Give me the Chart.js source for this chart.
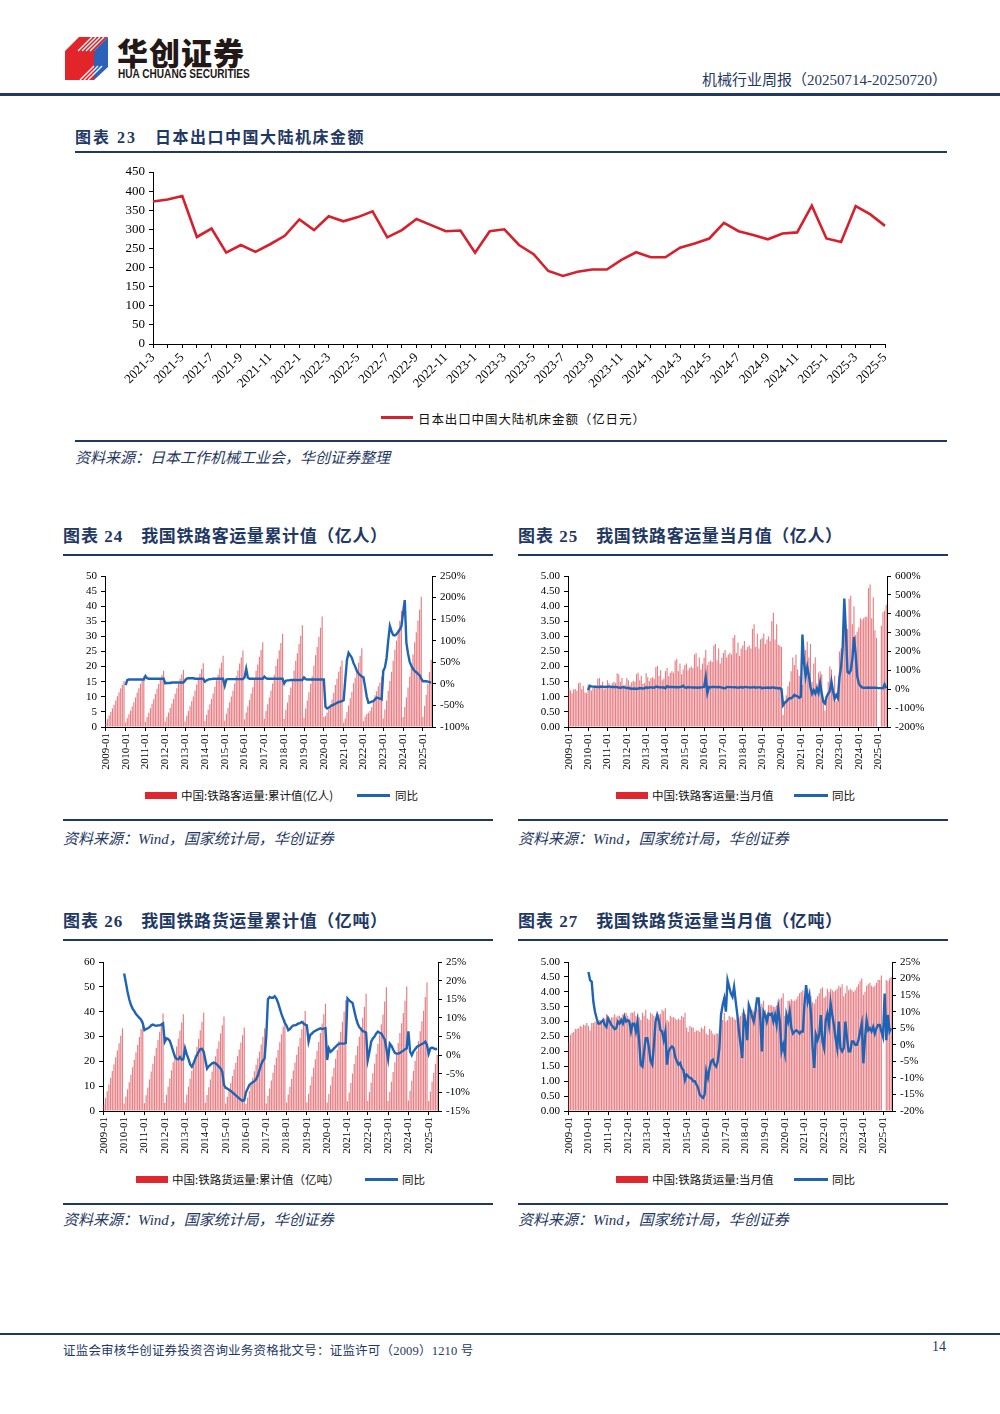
<!DOCTYPE html>
<html lang="zh-CN">
<head>
<meta charset="utf-8">
<title>机械行业周报</title>
<script src="https://cdn.jsdelivr.net/npm/chart.js@4.4.1/dist/chart.umd.min.js"></script>
<style>
  html, body { margin: 0; padding: 0; background: #fff; }
  body { width: 1000px; height: 1414px; position: relative; overflow: hidden;
         font-family: "Liberation Serif", "Noto Sans CJK SC", serif; color: #000; }
  .rule { position: absolute; height: 2px; background: #1f3864; }
  .title { position: absolute; font-size: 17px; font-weight: 700; color: #1f3864; white-space: nowrap;
           letter-spacing: 0.6px; line-height: 1.2; }
  .title .no { margin-right: 18px; letter-spacing: 1px; }
  .src { position: absolute; font-size: 15px; font-style: italic; color: #1f3864; white-space: nowrap; }
  .lgtext { position: absolute; font-size: 11.5px; font-family: "Noto Sans CJK SC", sans-serif; white-space: nowrap; color: #111; }
  .lg-bar { position: absolute; height: 7px; background: #e0262e; }
  .lg-line { position: absolute; height: 3px; background: #1f63b5; }
  canvas { position: absolute; }
</style>
</head>
<body>

<!-- header -->
<svg style="position:absolute;left:62px;top:35px" width="50" height="48" viewBox="0 0 50 48">
  <polygon points="3,16 17,2 46,2 32,16 32,45 3,45" fill="#e1252b"/>
  <polygon points="32,16 46,2 46,32 32,45" fill="#2a63b8"/>
  <g stroke="#fff" stroke-width="1.3">
    <line x1="16" y1="16" x2="30" y2="2"/>
    <line x1="20" y1="16" x2="34" y2="2"/>
    <line x1="24" y1="16" x2="38" y2="2"/>
    <line x1="28" y1="16" x2="42" y2="2"/>
    <line x1="18" y1="45" x2="32" y2="31"/>
    <line x1="22" y1="45" x2="36" y2="31"/>
    <line x1="26" y1="45" x2="40" y2="31"/>
  </g>
</svg>
<div style="position:absolute;left:117px;top:36px;line-height:1;font-family:'Noto Sans CJK SC',sans-serif;font-weight:900;font-size:31px;color:#231815;letter-spacing:1px;">华创证券</div>
<div style="position:absolute;left:118px;top:68px;line-height:1;font-family:'Liberation Sans',sans-serif;font-weight:700;font-size:12px;color:#231815;white-space:nowrap;transform:scaleX(0.84);transform-origin:left top;">HUA CHUANG SECURITIES</div>
<div style="position:absolute;right:53px;top:68px;font-size:15px;color:#1f3864;white-space:nowrap;">机械行业周报（20250714-20250720）</div>
<div class="rule" style="left:0;top:93px;width:1000px;height:3px;"></div>

<!-- chart 23 -->
<div class="title" style="left:75px;top:128px;font-size:16px;"><span class="no" style="letter-spacing:2px;margin-right:18px;">图表 23</span><span style="letter-spacing:1.5px;">日本出口中国大陆机床金额</span></div>
<div class="rule" style="left:75px;top:151px;width:872px;"></div>
<canvas id="c23" width="872" height="245" style="left:75px;top:160px;"></canvas>
<div class="lg-line" style="left:381px;top:416px;width:32px;background:#d6202c;"></div>
<div class="lgtext" style="left:418px;top:409px;font-size:12.5px;letter-spacing:0.9px;">日本出口中国大陆机床金额（亿日元）</div>
<div class="rule" style="left:75px;top:440px;width:872px;"></div>
<div class="src" style="left:75px;top:446px;">资料来源：日本工作机械工业会，华创证券整理</div>

<!-- chart 24 -->
<div class="title" style="left:63px;top:527px;"><span class="no">图表 24</span>我国铁路客运量累计值（亿人）</div>
<div class="rule" style="left:63px;top:554px;width:430px;"></div>
<canvas id="c24" width="430" height="220" style="left:63px;top:560px;"></canvas>
<div class="lg-bar" style="left:145px;top:792px;width:32px;"></div>
<div class="lgtext" style="left:181px;top:787px;">中国:铁路客运量:累计值(亿人)</div>
<div class="lg-line" style="left:357px;top:794px;width:33px;"></div>
<div class="lgtext" style="left:395px;top:787px;">同比</div>
<div class="rule" style="left:63px;top:819px;width:430px;"></div>
<div class="src" style="left:63px;top:827px;">资料来源：Wind，国家统计局，华创证券</div>

<!-- chart 25 -->
<div class="title" style="left:518px;top:527px;"><span class="no">图表 25</span>我国铁路客运量当月值（亿人）</div>
<div class="rule" style="left:518px;top:554px;width:430px;"></div>
<canvas id="c25" width="430" height="220" style="left:518px;top:560px;"></canvas>
<div class="lg-bar" style="left:616px;top:792px;width:32px;"></div>
<div class="lgtext" style="left:652px;top:787px;">中国:铁路客运量:当月值</div>
<div class="lg-line" style="left:794px;top:794px;width:34px;"></div>
<div class="lgtext" style="left:832px;top:787px;">同比</div>
<div class="rule" style="left:518px;top:819px;width:430px;"></div>
<div class="src" style="left:518px;top:827px;">资料来源：Wind，国家统计局，华创证券</div>

<!-- chart 26 -->
<div class="title" style="left:63px;top:912px;"><span class="no">图表 26</span>我国铁路货运量累计值（亿吨）</div>
<div class="rule" style="left:63px;top:939px;width:430px;"></div>
<canvas id="c26" width="430" height="220" style="left:63px;top:946px;"></canvas>
<div class="lg-bar" style="left:136px;top:1176px;width:32px;"></div>
<div class="lgtext" style="left:172px;top:1171px;">中国:铁路货运量:累计值（亿吨）</div>
<div class="lg-line" style="left:365px;top:1178px;width:33px;"></div>
<div class="lgtext" style="left:402px;top:1171px;">同比</div>
<div class="rule" style="left:63px;top:1203px;width:430px;"></div>
<div class="src" style="left:63px;top:1208px;">资料来源：Wind，国家统计局，华创证券</div>

<!-- chart 27 -->
<div class="title" style="left:518px;top:912px;"><span class="no">图表 27</span>我国铁路货运量当月值（亿吨）</div>
<div class="rule" style="left:518px;top:939px;width:430px;"></div>
<canvas id="c27" width="430" height="220" style="left:518px;top:946px;"></canvas>
<div class="lg-bar" style="left:616px;top:1176px;width:32px;"></div>
<div class="lgtext" style="left:652px;top:1171px;">中国:铁路货运量:当月值</div>
<div class="lg-line" style="left:794px;top:1178px;width:34px;"></div>
<div class="lgtext" style="left:832px;top:1171px;">同比</div>
<div class="rule" style="left:518px;top:1203px;width:430px;"></div>
<div class="src" style="left:518px;top:1208px;">资料来源：Wind，国家统计局，华创证券</div>

<!-- footer -->
<div class="rule" style="left:0;top:1333px;width:1000px;"></div>
<div style="position:absolute;left:63px;top:1340px;font-size:12.5px;letter-spacing:0.2px;color:#1f3864;white-space:nowrap;">证监会审核华创证券投资咨询业务资格批文号：证监许可（2009）1210 号</div>
<div style="position:absolute;left:932px;top:1339px;font-size:14px;color:#1f3864;">14</div>

<script>
// month labels for the category axes
function monthLabels(y0, m0, y1, m1, pad) {
    var out = [];
    for (var y = y0, m = m0; y < y1 || (y === y1 && m <= m1); ) {
        out.push(y + '-' + (pad && m < 10 ? '0' + m : m));
        m++;
        if (m > 12) { m = 1; y++; }
    }
    return out;
}

var machineMonths = monthLabels(2021, 3, 2025, 5, false);
var railMonths = monthLabels(2009, 1, 2025, 6, true);

// 图表23 日本出口中国大陆机床金额（亿日元）
var machineExports = [
    373, 378, 387, 280, 302, 239, 259, 241, 261, 283,
    326, 298, 334, 321, 332, 347, 279, 298, 327, 311, 295, 297,
    239, 295, 300, 259, 235, 191, 178, 189, 195, 195, 220, 240,
    227, 227, 252, 263, 276, 317, 295, 285, 274, 289, 292, 362,
    276, 267, 361, 339, 309
];

var N12 = null;
// 图表24 铁路客运量累计值（亿人）/ 同比(%)
var paxCum = [
    1.3, 2.6, 3.8, 5.0, 6.2, 7.4, 8.8, 10.2, 11.5, 12.8, 14.0, 15.2,
    1.5, 2.9, 4.2, 5.5, 6.8, 8.2, 9.8, 11.4, 12.8, 14.3, 15.5, 16.8,
    1.7, 3.3, 4.7, 6.2, 7.7, 9.2, 10.9, 12.7, 14.2, 15.8, 17.2, 18.6,
    1.7, 3.4, 4.8, 6.3, 7.8, 9.3, 11.0, 12.8, 14.3, 16.0, 17.4, 18.9,
    1.8, 3.7, 5.3, 6.9, 8.5, 10.1, 12.1, 14.1, 15.7, 17.6, 19.2, 21.1,
    2.0, 4.0, 5.7, 7.5, 9.3, 11.1, 13.3, 15.5, 17.3, 19.4, 21.3, 23.6,
    2.1, 4.4, 6.3, 8.2, 10.1, 12.0, 14.4, 16.8, 18.7, 21.0, 23.0, 25.3,
    2.5, 4.8, 6.9, 9.0, 11.1, 13.2, 15.9, 18.6, 20.7, 23.3, 25.5, 28.1,
    2.7, 5.3, 7.5, 9.8, 12.1, 14.4, 17.3, 20.2, 22.6, 25.4, 27.8, 30.8,
    2.7, 5.7, 8.1, 10.6, 13.1, 15.5, 18.7, 21.9, 24.4, 27.5, 30.2, 33.7,
    3.1, 6.1, 8.8, 11.5, 14.2, 16.8, 20.3, 23.8, 26.5, 29.9, 32.9, 36.6,
    3.3, 3.6, 4.7, 5.9, 7.5, 9.1, 11.3, 13.9, 16.0, 18.3, 20.0, 22.0,
    1.5, 2.8, 4.9, 7.1, 9.5, 11.7, 14.5, 16.2, 18.5, 21.3, 23.6, 26.1,
    1.9, 3.5, 4.3, 4.7, 5.3, 6.5, 8.6, 10.5, 11.8, 13.5, 14.7, 16.7,
    2.8, 5.8, 8.8, 12.0, 15.2, 18.3, 21.9, 25.6, 28.6, 32.2, 35.2, 38.5,
    3.3, 6.6, 9.8, 13.1, 16.6, 20.0, 24.0, 28.1, 31.4, 35.3, 38.8, 43.1,
    3.4, 7.0, 10.6, 14.3, 18.2, 22.3
];
var paxCumYoY = [
    N12, N12, N12, N12, N12, N12, N12, N12, N12, N12, N12, N12,
    -3, 9, 10, 10, 10, 10, 10, 10, 10, 10, 10, 10,
    18, 13, 12, 12, 12, 12, 12, 12, 12, 12, 12, 12,
    1, 2, 2, 2, 3, 3, 3, 3, 3, 3, 3, 3,
    8, 12, 13, 13, 13, 13, 12, 12, 12, 12, 12, 12,
    5, 8, 10, 11, 11, 12, 12, 12, 12, 12, 12, 12,
    -4, 10, 11, 11, 11, 11, 11, 11, 11, 11, 11, 11,
    15, 35, 14, 12, 12, 12, 12, 12, 12, 12, 12, 12,
    17, 13, 12, 12, 12, 12, 12, 12, 12, 12, 12, 12,
    1, 7, 8, 8, 9, 9, 9, 9, 9, 9, 9, 9,
    15, 11, 10, 10, 10, 10, 10, 10, 10, 10, 10, 10,
    10, -53, -57, -55, -52, -50, -48, -46, -44, -42, -41, -40,
    -38, 10, 55, 72, 66, 60, 48, 40, 30, 24, 20, 17,
    15, -7, -30, -44, -43, -41, -40, -36, -32, -33, -34, -36,
    30, 38, 60, 100, 134, 122, 113, 112, 115, 120, 126, 134,
    165, 194, 95, 70, 51, 42, 35, 30, 27, 23, 20, 12,
    6, 6, 6, 5, 4, 3
];

// 图表25 铁路客运量当月值（亿人）/ 同比(%)
var paxMon = [
    1.32, 1.21, 1.12, 1.24, 1.26, 1.20, 1.45, 1.47, 1.25, 1.36, 1.14, 1.12,
    1.40, 1.30, 1.21, 1.30, 1.35, 1.30, 1.60, 1.62, 1.40, 1.50, 1.25, 1.30,
    1.55, 1.45, 1.35, 1.45, 1.50, 1.45, 1.78, 1.75, 1.50, 1.62, 1.38, 1.40,
    1.62, 1.55, 1.38, 1.48, 1.52, 1.50, 1.75, 1.80, 1.55, 1.70, 1.42, 1.45,
    1.78, 1.65, 1.52, 1.62, 1.65, 1.60, 1.98, 2.02, 1.70, 1.88, 1.55, 1.60,
    1.85, 1.95, 1.68, 1.80, 1.85, 1.80, 2.20, 2.25, 1.85, 2.10, 1.75, 1.90,
    2.05, 2.10, 1.88, 1.95, 2.00, 1.95, 2.40, 2.45, 2.00, 2.30, 1.90, 2.10,
    2.30, 2.55, 2.05, 2.15, 2.20, 2.15, 2.70, 2.75, 2.20, 2.60, 2.10, 2.30,
    2.45, 2.55, 2.30, 2.40, 2.45, 2.40, 2.95, 3.05, 2.45, 2.80, 2.35, 2.60,
    2.70, 2.85, 2.55, 2.65, 2.70, 2.60, 3.25, 3.40, 2.65, 3.10, 2.60, 2.90,
    2.95, 3.10, 2.75, 2.90, 3.00, 2.85, 3.50, 3.78, 2.90, 3.40, 2.72, 2.70,
    2.65, 0.40, 0.85, 1.05, 1.35, 1.50, 1.85, 2.30, 2.05, 2.40, 1.90, 1.70,
    1.25, 1.40, 2.10, 2.55, 2.82, 2.30, 2.75, 1.50, 2.10, 2.30, 1.45, 1.80,
    1.85, 1.75, 0.95, 0.55, 0.85, 1.50, 2.00, 1.90, 1.15, 1.70, 0.85, 1.05,
    2.50, 2.60, 3.05, 3.45, 3.25, 3.25, 4.25, 4.35, 3.40, 4.00, 3.05, 3.15,
    3.30, 3.60, 3.55, 3.60, 3.65, 3.65, 4.60, 4.72, 3.60, 4.30, 3.20, 2.95,
    null, null, 3.35, 3.80, 3.85, 4.05
];
var paxMonYoY = [
    N12, N12, N12, N12, N12, N12, N12, N12, N12, N12, N12, N12,
    -5, 18, 15, 14, 13, 14, 12, 12, 14, 13, 12, 14,
    12, 15, 13, 12, 12, 12, 11, 9, 8, 10, 11, 9,
    6, 8, 4, 3, 3, 4, 1, 4, 5, 6, 4, 5,
    10, 7, 10, 10, 9, 8, 13, 13, 10, 11, 9, 10,
    5, 16, 12, 12, 12, 12, 11, 12, 10, 12, 13, 18,
    10, 8, 12, 10, 10, 9, 10, 9, 8, 10, 9, 11,
    12, 65, -20, 12, 11, 12, 12, 12, 10, 13, 10, 10,
    6, 5, 12, 11, 11, 11, 10, 11, 10, 8, 10, 12,
    8, 12, 11, 10, 10, 9, 10, 12, 8, 10, 10, 11,
    5, 8, 8, 8, 9, 7, 9, 10, 7, 8, 4, 6,
    0, -85, -72, -65, -55, -48, -48, -40, -30, -35, -38, -45,
    -40, 290, 140, 68, 118, 74, 12, -23, -5, -23, 4, -20,
    33, -23, -67, -76, -40, -23, -10, 42, -9, -50, -30, -46,
    65, 120, 224, 480, 300, 92, 85, 100, 160, 277, 190, 70,
    30, 18, 10, 8, 8, 8, 9, 8, 8, 8, 8, 8,
    6, 6, 6, 5, 26, 5
];

// 图表26 铁路货运量累计值（亿吨）/ 同比(%)
var frCum = [
    2.6, 5.3, 8.0, 10.7, 13.4, 16.1, 18.8, 21.6, 24.4, 27.3, 30.3, 33.3,
    3.0, 5.8, 8.7, 11.6, 14.6, 17.6, 20.6, 23.6, 26.6, 29.8, 33.0, 36.4,
    3.2, 6.3, 9.5, 12.7, 15.9, 19.0, 22.2, 25.4, 28.6, 31.9, 35.3, 39.3,
    3.3, 6.5, 9.8, 13.1, 16.4, 19.6, 22.8, 26.0, 29.1, 32.4, 35.6, 39.0,
    3.3, 6.5, 9.8, 13.0, 16.2, 19.3, 22.5, 25.8, 29.1, 32.5, 35.9, 39.7,
    3.3, 6.4, 9.6, 12.7, 15.9, 19.0, 22.0, 25.1, 28.1, 31.3, 34.5, 38.1,
    3.0, 5.7, 8.5, 11.3, 14.1, 16.7, 19.4, 22.1, 24.8, 27.6, 30.5, 33.6,
    2.8, 5.4, 8.1, 10.8, 13.4, 16.0, 18.6, 21.2, 23.9, 26.8, 29.9, 33.3,
    3.0, 6.0, 9.1, 12.3, 15.4, 18.5, 21.5, 24.6, 27.7, 30.9, 34.0, 36.9,
    3.4, 6.6, 9.8, 13.0, 16.3, 19.5, 22.7, 26.0, 29.4, 32.9, 36.4, 40.3,
    3.5, 6.9, 10.4, 13.9, 17.4, 20.8, 24.3, 27.8, 31.4, 35.2, 39.0, 43.2,
    3.4, 6.8, 10.3, 13.9, 17.4, 21.0, 24.6, 28.2, 31.9, 35.9, 40.1, 44.6,
    3.9, 7.5, 11.3, 15.1, 18.9, 22.5, 26.2, 29.9, 33.7, 37.6, 41.9, 47.2,
    4.0, 7.6, 11.4, 15.2, 19.1, 23.0, 27.0, 30.9, 34.9, 38.9, 44.1, 49.8,
    4.0, 7.8, 11.8, 15.7, 19.6, 23.4, 27.4, 31.4, 35.3, 39.5, 44.4, 50.1,
    4.2, 8.2, 12.2, 16.2, 20.2, 24.1, 28.1, 32.1, 36.1, 40.4, 45.9, 51.7,
    4.0, 7.9, 11.8, 15.4, 19.0, 22.6
];
var frCumYoY = [
    N12, N12, N12, N12, N12, N12, N12, N12, N12, N12, N12, N12,
    21.9, 19.5, 17.0, 15.0, 13.5, 12.5, 11.8, 11.0, 10.5, 10.0, 9.5, 8.5,
    6.7, 7.0, 7.2, 7.5, 8.0, 8.2, 8.0, 7.9, 8.0, 8.0, 8.2, 8.5,
    3.6, 4.5, 4.3, 3.8, 2.5, 1.0, -0.4, -1.0, -1.1, -0.5, -1.2, -1.1,
    1.8, 0.2, -1.0, -2.5, -3.1, -2.2, -1.0, 0.0, 0.9, 1.6, 1.7, 0.9,
    -1.3, -3.6, -3.0, -2.6, -2.2, -2.0, -2.2, -2.6, -3.1, -3.6, -4.5, -8.0,
    -8.8, -9.0, -9.3, -9.6, -10.0, -10.4, -10.8, -11.2, -11.6, -12.0, -12.3, -12.1,
    -10.0, -9.0, -8.0, -7.6, -7.3, -7.0, -6.5, -5.5, -4.0, -2.5, -1.5, -0.9,
    5.0, 15.0, 15.6, 15.4, 15.4, 15.8, 15.2, 14.0, 12.5, 11.0, 9.8, 8.6,
    7.9, 6.7, 7.0, 7.6, 8.0, 8.0, 8.2, 8.5, 8.6, 8.9, 8.5, 8.2,
    8.0, 3.6, 5.4, 5.8, 6.3, 6.5, 6.8, 7.0, 7.2, 7.0, 7.1, 7.2,
    -1.3, 1.8, 0.9, 1.3, 1.8, 2.2, 2.7, 3.1, 3.1, 3.1, 3.1, 3.3,
    15.2, 14.7, 14.3, 14.0, 12.0, 10.0, 8.5, 7.5, 7.0, 6.4, 6.3, 6.0,
    -1.3, 0.9, 3.6, 4.5, 5.0, 5.8, 6.3, 6.0, 5.8, 5.0, 4.2, 1.8,
    -1.1, 3.1, 2.5, 1.5, 0.6, 0.4, 0.4, 0.6, 0.9, 1.2, 1.6, 1.8,
    6.4, 0.9, 0.0, 1.0, 1.6, 2.2, 2.5, 2.7, 3.0, 3.2, 3.6, 2.7,
    0.4, 1.8, 2.0, 1.8, 1.6, 1.7
];

// 图表27 铁路货运量当月值（亿吨）/ 同比(%)
var frMon = [
    2.30, 2.55, 2.62, 2.65, 2.75, 2.75, 2.78, 2.85, 2.82, 2.90, 2.88, 2.95,
    2.85, 2.70, 2.95, 2.95, 3.00, 3.00, 3.00, 3.05, 3.00, 3.15, 3.10, 3.25,
    3.05, 2.95, 3.15, 3.15, 3.25, 3.15, 3.20, 3.20, 3.15, 3.25, 3.30, 3.30,
    3.20, 3.10, 3.30, 3.30, 3.35, 3.20, 3.25, 3.15, 3.05, 3.30, 3.20, 3.40,
    3.10, 3.05, 3.30, 3.25, 3.20, 3.10, 3.20, 3.25, 3.25, 3.40, 3.35, 3.45,
    3.05, 3.00, 3.20, 3.15, 3.15, 3.10, 3.05, 3.10, 3.05, 3.20, 3.15, 3.30,
    2.80, 2.65, 2.85, 2.80, 2.80, 2.65, 2.70, 2.70, 2.65, 2.80, 2.75, 2.85,
    2.60, 2.55, 2.75, 2.70, 2.60, 2.55, 2.60, 2.60, 2.70, 2.90, 3.05, 3.30,
    3.00, 3.05, 3.20, 3.15, 3.15, 3.10, 3.05, 3.10, 3.15, 3.20, 3.30, 3.40,
    3.25, 3.15, 3.35, 3.35, 3.40, 3.35, 3.35, 3.45, 3.40, 3.50, 3.60, 3.70,
    3.40, 3.25, 3.55, 3.55, 3.55, 3.50, 3.50, 3.55, 3.65, 3.75, 3.80, 3.95,
    3.20, 3.30, 3.70, 3.70, 3.75, 3.70, 3.70, 3.75, 3.85, 3.95, 4.00, 4.05,
    3.80, 3.70, 4.10, 3.90, 3.85, 3.65, 3.60, 3.75, 3.85, 3.95, 4.10, 4.15,
    3.80, 3.85, 4.10, 4.00, 4.10, 4.05, 4.00, 4.05, 4.10, 4.20, 4.15, 4.25,
    3.85, 3.95, 4.20, 4.05, 4.10, 4.05, 4.00, 4.05, 4.15, 4.25, 4.35, 4.45,
    3.90, 4.00, 4.20, 4.25, 4.30, 4.20, 4.15, 4.20, 4.30, 4.40, 4.40, 4.55,
    null, null, 4.40, 4.35, 4.45, 4.50
];
var frMonYoY = [
    N12, N12, N12, N12, N12, N12, N12, N12, N12, N12, N12, N12,
    22, 19.5, 19, 13, 10, 8, 6.4, 6.4, 7, 7.4, 6, 5.4,
    8, 7, 6, 5.4, 4.7, 5, 7, 6.4, 7.4, 6.4, 8.4, 7,
    7.4, 7, 4, 6.4, 6.4, 4, 7, 1, -6.1, -6.6, -2, 2,
    2, -1, -5, -6, 0, 7, 9, 7.4, 4.4, 4, 1.5, 4,
    -6, -2, -1, -0.5, -1, -3.6, -5, -6, -5.5, -7, -7.6, -10.6,
    -9, -9.5, -10, -10.2, -11, -11, -12, -13, -15, -15.6, -16, -15,
    -8, -10, -7, -5, -4.5, -6, -6.6, -5, -1, 9, 12, 14,
    10, 19.5, 17.5, 15.5, 14.5, 17.5, 13, 9, 4, 0, -4, 9,
    7, 1.4, 12, 10.5, 8.5, 7, 10, 14, 14, 8, -2, 10,
    9, 7, 9.4, 9, 9.4, 7, 9, 6, 11, 7, -2, 0,
    -2.6, 9, 7, 10, 5, 3.4, 4, 4.4, 4, 3.4, 4, 4,
    12, 18, 13, 15, 9.4, -1, -7, 3, 1.4, 3, 9, 1,
    -1, 7.4, 9.4, 6, 12.5, 9, 6, 2, -1, 7, -1, -2,
    -1, 7, 2, -2, -2, 1, 1, 0, 0, 1.4, 4, 6.4,
    -5.6, 1.9, 7.4, 4.4, 5, 4, 5.4, 3.4, 5, 6, 6, 4,
    2.4, 15.5, 1.4, 9, 4, 5
];

var RED = '#d6202c';
var BLUE = '#1f63b5';
var BAR_FILL = 'rgba(214, 40, 50, 0.6)';

Chart.defaults.font.family = '"Liberation Serif", "Times New Roman", serif';
Chart.defaults.color = '#000';

function axisGrid() {
    return { drawOnChartArea: false, drawTicks: true, tickLength: 4, color: '#000', offset: false };
}

// 图表23 line chart
new Chart(document.getElementById('c23'), {
    type: 'line',
    data: {
        labels: machineMonths,
        datasets: [{
            data: machineExports,
            borderColor: RED,
            borderWidth: 2.6,
            pointRadius: 0,
            tension: 0
        }]
    },
    options: {
        responsive: false,
        animation: false,
        layout: { padding: { top: 12, right: 62 } },
        plugins: { legend: { display: false }, tooltip: { enabled: false } },
        scales: {
            x: {
                offset: false,
                grid: axisGrid(),
                border: { color: '#000' },
                ticks: {
                    autoSkip: false, minRotation: 45, maxRotation: 45, padding: 2,
                    font: { size: 13 },
                    callback: function(v, i) { return i % 2 === 0 ? machineMonths[i] : ''; }
                },
                afterFit: function(s) { s.height = 61; }
            },
            y: {
                min: 0, max: 450,
                grid: axisGrid(),
                border: { color: '#000' },
                ticks: { stepSize: 50, autoSkip: false, font: { size: 13 }, padding: 4 },
                afterFit: function(s) { s.width = 78; }
            }
        }
    }
});

// bar (left axis) + YoY line (right axis) charts
function comboChart(id, bars, yoy, cfg) {
    new Chart(document.getElementById(id), {
        data: {
            labels: railMonths,
            datasets: [
                { type: 'line', data: yoy, yAxisID: 'y1', borderColor: BLUE, borderWidth: 2.4,
                  pointRadius: 0, tension: 0, spanGaps: true, order: 0 },
                { type: 'bar', data: bars, yAxisID: 'y', backgroundColor: BAR_FILL,
                  barPercentage: 0.7, categoryPercentage: 1, order: 1 }
            ]
        },
        options: {
            responsive: false,
            animation: false,
            layout: { padding: { top: 16 } },
            plugins: { legend: { display: false }, tooltip: { enabled: false } },
            scales: {
                x: {
                    grid: axisGrid(),
                    border: { color: '#000' },
                    ticks: {
                        autoSkip: false, minRotation: 90, maxRotation: 90, padding: 2,
                        font: { size: 11 },
                        callback: function(v, i) {
                            var l = railMonths[i];
                            return l.slice(5) === '01' ? l : null;
                        }
                    },
                    afterFit: function(s) { s.height = cfg.xH; }
                },
                y: {
                    position: 'left', min: cfg.yMin, max: cfg.yMax,
                    grid: axisGrid(),
                    border: { color: '#000' },
                    ticks: { stepSize: cfg.yStep, autoSkip: false, font: { size: 11 }, padding: 4,
                             callback: function(v) { return cfg.yDec ? v.toFixed(cfg.yDec) : v; } },
                    afterFit: function(s) { s.width = cfg.leftW; }
                },
                y1: {
                    position: 'right', min: cfg.rMin, max: cfg.rMax,
                    grid: axisGrid(),
                    border: { color: '#000' },
                    ticks: { stepSize: cfg.rStep, autoSkip: false, font: { size: 11 }, padding: 4,
                             callback: function(v) { return v + '%'; } },
                    afterFit: function(s) { s.width = cfg.rightW; }
                }
            }
        }
    });
}

comboChart('c24', paxCum, paxCumYoY, {
    yMin: 0, yMax: 50, yStep: 5, yDec: 0, rMin: -100, rMax: 250, rStep: 50,
    leftW: 42, rightW: 61, xH: 53
});
comboChart('c25', paxMon, paxMonYoY, {
    yMin: 0, yMax: 5, yStep: 0.5, yDec: 2, rMin: -200, rMax: 600, rStep: 100,
    leftW: 50, rightW: 61, xH: 53
});
comboChart('c26', frCum, frCumYoY, {
    yMin: 0, yMax: 60, yStep: 10, yDec: 0, rMin: -15, rMax: 25, rStep: 5,
    leftW: 40, rightW: 55, xH: 55
});
comboChart('c27', frMon, frMonYoY, {
    yMin: 0, yMax: 5, yStep: 0.5, yDec: 2, rMin: -20, rMax: 25, rStep: 5,
    leftW: 50, rightW: 56, xH: 55
});
</script>
</body>
</html>
